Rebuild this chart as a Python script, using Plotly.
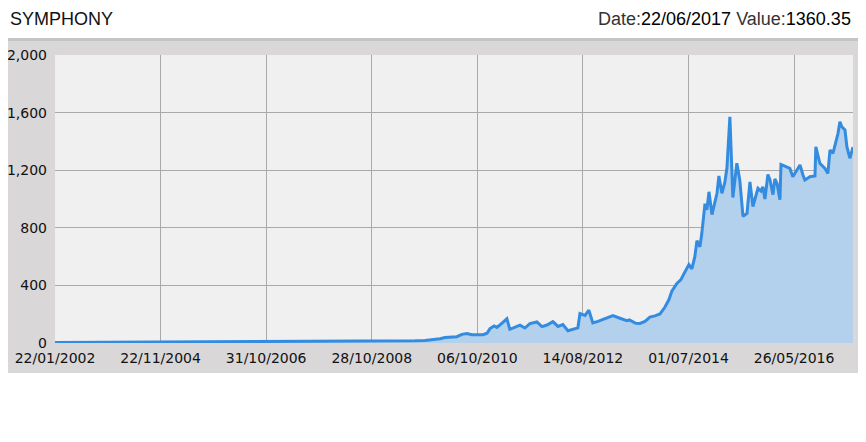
import plotly.graph_objects as go

# Trading-session index (x) and closing value (y)
session = [0, 213, 450, 687, 923, 1160, 1397, 1539, 1634, 1705, 1752, 1790, 1823, 1847,
           1870, 1903, 1927, 1951, 1974, 1998, 2027, 2046, 2060, 2079, 2093, 2117, 2140,
           2154, 2178, 2202, 2225, 2249, 2282, 2306, 2330, 2358, 2382, 2405, 2429, 2462,
           2476, 2486, 2510, 2528, 2547, 2571, 2600, 2628, 2642, 2675, 2708, 2720, 2737,
           2750, 2770, 2794, 2817, 2841, 2865, 2888, 2907, 2921, 2945, 2964, 2978, 3002,
           3016, 3030, 3040, 3054, 3063, 3078, 3087, 3097, 3111, 3125, 3135, 3144, 3158,
           3172, 3182, 3196, 3206, 3210, 3229, 3243, 3258, 3277, 3291, 3305, 3329, 3343,
           3352, 3362, 3376, 3386, 3400, 3409, 3419, 3433, 3438, 3457, 3480, 3494, 3513,
           3528, 3542, 3551, 3575, 3599, 3603, 3622, 3646, 3660, 3670, 3684, 3708, 3717,
           3726, 3741, 3750, 3764, 3779]
close = [4, 5, 6, 6, 7, 8, 9, 10, 12, 15, 18, 22, 30, 38,
         42, 44, 60, 66, 58, 60, 58, 68, 100, 118, 108, 138, 168,
         95, 112, 124, 104, 135, 146, 114, 125, 148, 115, 128, 85, 100,
         105, 205, 192, 228, 140, 150, 165, 178, 190, 172, 155, 160, 148,
         137, 136, 150, 180, 188, 202, 248, 300, 360, 414, 440, 480, 545,
         515, 600, 710, 668, 760, 968, 924, 1050, 892, 968, 1040, 1160, 1040,
         1115, 1215, 1570, 1225, 1010, 1248, 1130, 880, 900, 1118, 948, 1074, 1055,
         1085, 1000, 1170, 1132, 1030, 1140, 1109, 995, 1240, 1225, 1212, 1155, 1200,
         1236, 1167, 1132, 1155, 1160, 1362, 1248, 1213, 1178, 1340, 1317, 1456, 1537,
         1502, 1479, 1363, 1283, 1360.35]

tick_sessions = [0, 500, 1000, 1500, 2000, 2500, 3000, 3500]
tick_labels = ["22/01/2002", "22/11/2004", "31/10/2006", "28/10/2008",
               "06/10/2010", "14/08/2012", "01/07/2014", "26/05/2016"]
y_ticks = [0, 400, 800, 1200, 1600, 2000]

title = "SYMPHONY"
last_date = "22/06/2017"
last_value = "1360.35"

# the page body adds an 8px offset; figure is sized to fit the window
OFF = 8
W, H = 866 - OFF, 442 - OFF
L, R, T, B = 55 - OFF, 866 - 853, 55 - OFF, 442 - 343
pw, ph = W - L - R, H - T - B


def px(x):
    return (x - OFF - L) / pw


def py(y):
    return (H - B - (y - OFF)) / ph


fig = go.Figure()
fig.add_trace(go.Scatter(
    x=session, y=close, mode="lines",
    line=dict(color="#338ce0", width=3),
    fill="tozeroy", fillcolor="#b3d0ec",
    hoverinfo="skip", showlegend=False,
))

shapes = [
    # grey panel
    dict(type="rect", xref="paper", yref="paper", x0=px(0), x1=px(862), y0=py(373), y1=py(39),
         fillcolor="#d9d7d7", line=dict(width=0), layer="below"),
    # header shadow
    dict(type="rect", xref="paper", yref="paper", x0=px(0), x1=px(862), y0=py(41), y1=py(0),
         fillcolor="#c4c4c4", line=dict(width=0), layer="below"),
    # header
    dict(type="rect", xref="paper", yref="paper", x0=px(0), x1=px(860), y0=py(38), y1=py(0),
         fillcolor="#ffffff", line=dict(width=0), layer="below"),
    # plot area
    dict(type="rect", xref="paper", yref="paper", x0=0, x1=1, y0=0, y1=1,
         fillcolor="#f0f0f0", line=dict(width=0), layer="below"),
]

annotations = [
    dict(xref="paper", yref="paper", x=px(8), y=py(19), xanchor="left", yanchor="middle",
         text=title, showarrow=False,
         font=dict(family="Liberation Sans, Arial", size=18, color="#111")),
    dict(xref="paper", yref="paper", x=px(853), y=py(19), xanchor="right", yanchor="middle",
         text=f"<span style='color:#333'>Date:</span>{last_date} "
              f"<span style='color:#333'>Value:</span>{last_value}",
         showarrow=False,
         font=dict(family="Liberation Sans, Arial", size=18, color="#000")),
]

fig.update_layout(
    width=W, height=H,
    margin=dict(l=L, r=R, t=T, b=B, pad=0),
    paper_bgcolor="#ffffff",
    plot_bgcolor="rgba(0,0,0,0)",
    shapes=shapes,
    annotations=annotations,
    xaxis=dict(
        range=[0, session[-1]], tickmode="array", tickvals=tick_sessions, ticktext=tick_labels,
        showgrid=True, gridcolor="#a9a9a9", gridwidth=1, zeroline=False,
        showline=False, ticks="", ticklabelstandoff=5, automargin=False,
        tickfont=dict(family="DejaVu Sans", size=14, color="#111"),
        fixedrange=True,
    ),
    yaxis=dict(
        range=[0, 2000], tickmode="array", tickvals=y_ticks, tickformat=",",
        showgrid=True, gridcolor="#a9a9a9", gridwidth=1, zeroline=False,
        showline=False, ticks="", ticklabelstandoff=7, automargin=False,
        tickfont=dict(family="DejaVu Sans", size=14, color="#111"),
        fixedrange=True,
    ),
)

fig.write_html("out.html")
